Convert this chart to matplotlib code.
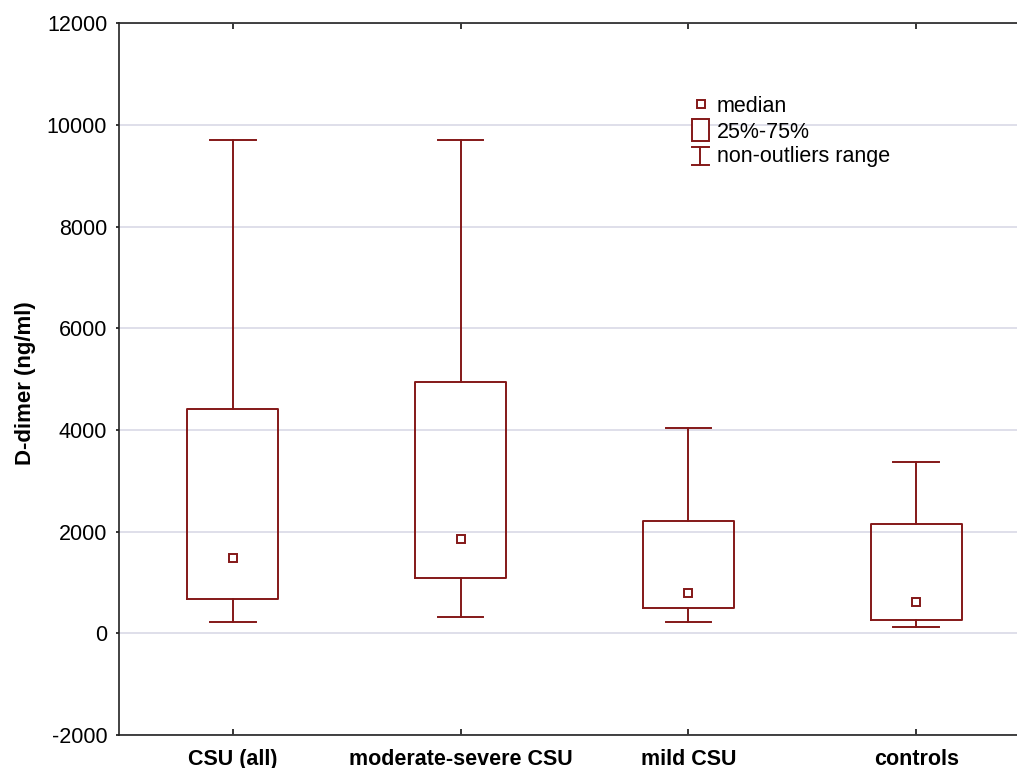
import matplotlib
matplotlib.use('Agg')
import matplotlib.pyplot as plt
from matplotlib.patches import Rectangle

plt.rcParams['font.family'] = ['Liberation Sans', 'DejaVu Sans']
plt.rcParams['axes.unicode_minus'] = False

# ── DATA ──
groups   = ['CSU (all)', 'moderate-severe CSU', 'mild CSU', 'controls']
medians  = [1480, 1846, 797, 614]
q1       = [665, 1093, 502, 260]
q3       = [4419, 4945, 2209, 2150]
whis_lo  = [220, 311, 220, 122]
whis_hi  = [9695, 9695, 4039, 3362]

red = '#841818'
lw = 1.4

stats = []
for i, name in enumerate(groups):
    stats.append(dict(label=name, med=medians[i], q1=q1[i], q3=q3[i],
                      whislo=whis_lo[i], whishi=whis_hi[i], fliers=[]))

fig = plt.figure(figsize=(10.17, 7.68), dpi=100)
ax = fig.add_axes([0.117, 0.043, 0.8958, 0.9267])

pos = list(range(1, len(groups) + 1))
ax.bxp(stats, positions=pos, widths=0.4, capwidths=0.2, showfliers=False,
       boxprops=dict(color=red, linewidth=lw),
       whiskerprops=dict(color=red, linewidth=lw),
       capprops=dict(color=red, linewidth=lw),
       medianprops=dict(linewidth=0),
       zorder=3)
ax.plot(pos, medians, linestyle='none', marker='s', markersize=6.3,
        markerfacecolor='white', markeredgecolor=red, markeredgewidth=lw,
        zorder=4)

ax.set_xlim(0.5, 4.5)
ax.set_ylim(-2000, 12000)
ax.set_yticks(range(-2000, 12001, 2000))
ax.set_xticks(pos)
ax.set_xticklabels(groups, fontsize=15.5, fontweight='bold')
ax.tick_params(axis='y', direction='out', length=2.5, width=1.1,
               labelsize=15.5, pad=6)
ax.tick_params(axis='x', direction='in', length=4, width=1.1,
               top=True, pad=10)

ax.grid(axis='y', color='#d6d6e4', linewidth=1.1, zorder=0)
ax.set_axisbelow(True)

for s in ['left', 'top', 'bottom']:
    ax.spines[s].set_linewidth(1.2)
    ax.spines[s].set_color('#222222')
ax.spines['right'].set_visible(False)

ax.set_ylabel('D-dimer (ng/ml)', fontsize=16, fontweight='bold')
ax.yaxis.set_label_coords(-0.091, 0.495)

# ── legend, drawn by hand in axes fractions ──
tr = ax.transAxes
ax.plot([0.6389], [0.8859], marker='s', markersize=6.3, markerfacecolor='white',
        markeredgecolor=red, markeredgewidth=lw, transform=tr, clip_on=False)
ax.add_patch(Rectangle((0.629, 0.8346), 0.01866, 0.0309, transform=tr,
                       facecolor='white', edgecolor=red, linewidth=lw))
ax.plot([0.6382, 0.6382], [0.8009, 0.8262], color=red, lw=lw, transform=tr)
ax.plot([0.629, 0.6476], [0.8262, 0.8262], color=red, lw=lw, transform=tr)
ax.plot([0.629, 0.6476], [0.8009, 0.8009], color=red, lw=lw, transform=tr)

ax.text(0.6564, 0.8758, 'median', transform=tr, fontsize=15.5, va='baseline')
ax.text(0.6564, 0.8384, '25%-75%', transform=tr, fontsize=15.5, va='baseline')
ax.text(0.6564, 0.805, 'non-outliers range', transform=tr, fontsize=15.5,
        va='baseline')

fig.savefig('out.png', dpi=100)
